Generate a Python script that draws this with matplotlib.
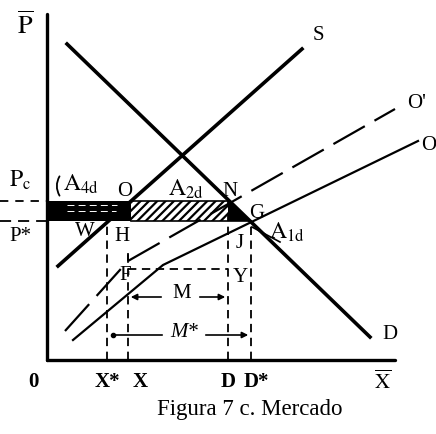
import matplotlib
matplotlib.use("Agg")
from matplotlib import pyplot as plt
import numpy as np

plt.rcParams['font.family'] = ['Liberation Serif', 'DejaVu Serif']
plt.rcParams['mathtext.fontset'] = 'stix'
plt.rcParams['hatch.linewidth'] = 1.6
plt.rcParams['lines.scale_dashes'] = False

# curves (quantity, price)
D_q = [20, 323]
D_p = [316, 23]
S_q = [11, 255]
S_p = [94, 311]
O2_q = [18, 81, 348]     # O' (dashed)
O2_p = [29, 99, 251]
O_q = [26, 116, 371]     # O (solid)
O_p = [20, 95, 219]

Pc = 159
Pstar = 139
x_star, x_dom, d_dom, d_star = 60, 81, 181, 204
FY_p = 91
M_p = 63
Mstar_p = 25

ticks_q = [-14, 60, 93, 181, 209, 336]
ticks_lab = ["0", "X*", "X", "D", "D*", r"$\overline{\mathrm{X}}$"]

fig = plt.figure(figsize=(4.36, 4.35), dpi=100)
ax = fig.add_axes([0, 0, 1, 1])
ax.set_xlim(-47, 389)
ax.set_ylim(-74, 361)
ax.axis('off')

# axes
ax.plot([0, 0], [0, 346], color='black', lw=2.4, solid_capstyle='round')
ax.plot([0, 348], [0, 0], color='black', lw=2.4, solid_capstyle='round')

# shaded areas
ax.fill_between([0, 84], Pstar, Pc, color='black', lw=0)
for yy in [155, 149]:
    ax.plot([20, 70], [yy, yy], color='white', lw=0.7, dashes=(5, 3))
ax.fill_between([84, 181], Pstar, Pc, facecolor='white', edgecolor='black',
                hatch='////', lw=0)
ax.fill([181, 181, 204], [Pc, Pstar, Pstar], color='black', lw=0)
ax.plot([84, 181], [Pc, Pc], color='black', lw=1.2)
ax.plot([84, 204], [Pstar, Pstar], color='black', lw=1.2)

# price dashed lines left of axis
ax.plot([-47, 0], [Pc, Pc], color='black', lw=1.3, dashes=(6, 5))
ax.plot([-47, 0], [Pstar, Pstar], color='black', lw=1.3, dashes=(8, 5))

# curves
ax.plot(D_q, D_p, color='black', lw=2.6)
ax.plot(S_q, S_p, color='black', lw=2.6)
ax.plot(O2_q, O2_p, color='black', lw=1.6, dashes=(26, 8))
ax.plot(O_q, O_p, color='black', lw=1.6)

# vertical dashed guides
ax.plot([x_star, x_star], [0, Pstar], color='black', lw=1.3, dashes=(6, 4))
ax.plot([x_dom, x_dom], [0, 106], color='black', lw=1.3, dashes=(6, 4))
ax.plot([d_dom, d_dom], [0, Pc], color='black', lw=1.3, dashes=(6, 4))
ax.plot([d_star, d_star], [0, Pstar], color='black', lw=1.3, dashes=(6, 4))
ax.plot([x_dom, d_dom], [FY_p, FY_p], color='black', lw=1.3, dashes=(6, 4))

# M and M* arrows
ax.annotate('', xy=(x_dom, M_p), xytext=(117, M_p),
            arrowprops=dict(arrowstyle='-|>', color='black', lw=1.2, mutation_scale=9))
ax.annotate('', xy=(d_dom, M_p), xytext=(150, M_p),
            arrowprops=dict(arrowstyle='-|>', color='black', lw=1.2, mutation_scale=9))
ax.text(135, M_p + 4, "M", fontsize=15, ha='center', va='center')
ax.annotate('', xy=(x_star + 5, Mstar_p), xytext=(118, Mstar_p),
            arrowprops=dict(arrowstyle='-', color='black', lw=1.2))
ax.plot([x_star + 6], [Mstar_p], 'o', color='black', ms=3)
ax.annotate('', xy=(d_star, Mstar_p), xytext=(156, Mstar_p),
            arrowprops=dict(arrowstyle='-|>', color='black', lw=1.2, mutation_scale=9))
ax.text(137, Mstar_p + 3, "M*", fontsize=15, ha='center', va='center', style='italic')

# small pointers
ax.plot([205, 233], [133, 118], color='black', lw=1.2)
ax.plot([x_dom, x_dom], [100, 106], color='black', lw=1.3)
ax.annotate('', xy=(14, 162), xytext=(14, 186),
            arrowprops=dict(arrowstyle='-', color='black', lw=1.3,
                            connectionstyle='arc3,rad=0.35'))

# axis labels and ticks
ax.text(-22, 336, r"$\overline{\mathrm{P}}$", fontsize=19, ha='center', va='center')
ax.text(-27, 181, r"$\mathrm{P_c}$", fontsize=17, ha='center', va='center')
ax.text(-27, 124, "P*", fontsize=15, ha='center', va='center')
for q, lab in zip(ticks_q, ticks_lab):
    ax.text(q, -21, lab, fontsize=15, ha='center', va='center', fontweight='bold')
ax.text(203, -49, "Figura 7 c. Mercado", fontsize=16.5, ha='center', va='center')

# curve labels
ax.text(271, 325, "S", fontsize=15, ha='center', va='center')
ax.text(370, 258, "O'", fontsize=15, ha='center', va='center')
ax.text(382, 216, "O", fontsize=15, ha='center', va='center')
ax.text(343, 26, "D", fontsize=15, ha='center', va='center')

# point labels
pts = {"O": (78, 169), "N": (183, 170), "G": (210, 147), "W": (38, 129),
       "H": (75, 124), "J": (193, 117), "F": (78, 86), "Y": (193, 84)}
for lab, (q, p) in pts.items():
    ax.text(q, p, lab, fontsize=15, ha='center', va='center')

ax.text(34, 177, r"$\mathrm{A_{4d}}$", fontsize=17, ha='center', va='center')
ax.text(139, 172, r"$\mathrm{A_{2d}}$", fontsize=17, ha='center', va='center')
ax.text(240, 129, r"$\mathrm{A_{1d}}$", fontsize=17, ha='center', va='center')

fig.savefig("out.png", dpi=100)
